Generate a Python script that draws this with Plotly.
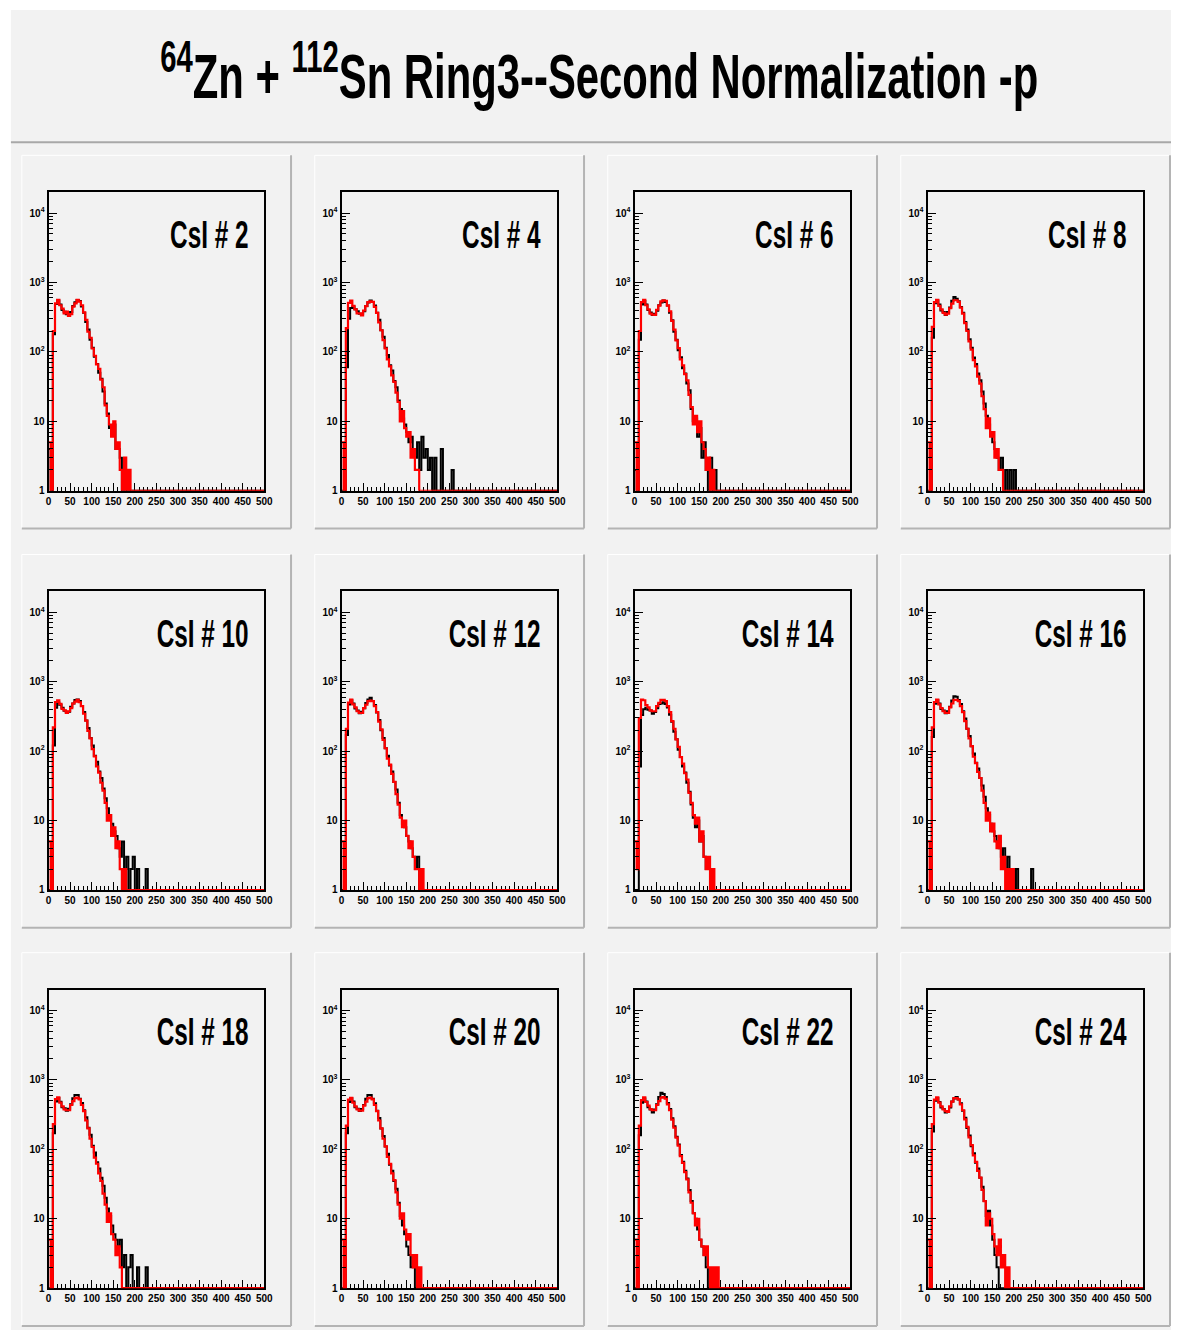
import numpy as np
import plotly.graph_objects as go

# ---------------- data ----------------
TITLE = "<sup>64</sup>Zn + <sup>112</sup>Sn Ring3--Second Normalization -p"
PANEL_IDS = [2, 4, 6, 8, 10, 12, 14, 16, 18, 20, 22, 24]
BIN_W = 5            # histogram bin width (channels)
X_MAX = 500
Y_MIN, Y_MAX = 1, 2e4
X_TICKS = [0, 50, 100, 150, 200, 250, 300, 350, 400, 450, 500]
Y_TICKS = [1, 10, 100, 1000, 10000]
Y_TICK_TEXT = ["1", "10", "10<sup>2</sup>", "10<sup>3</sup>", "10<sup>4</sup>"]

RED_2 = [5, 0, 200, 500, 560, 470, 420, 360, 380, 330, 350, 450, 500, 560, 530, 470, 370, 290, 195, 160, 112, 88, 66, 57, 40, 31, 17, 12, 9, 6, 10, 4, 5, 2, 0, 3, 1, 2, 1, 0]
BLACK_2 = [4, 0, 180, 490, 550, 480, 400, 380, 350, 345, 375, 460, 520, 560, 540, 450, 365, 270, 210, 150, 115, 85, 67, 50, 41, 27, 18, 13, 8, 7, 9, 4, 4, 3, 1, 2, 1, 1, 0, 0]

RED_4 = [5, 0, 220, 510, 550, 460, 410, 360, 360, 335, 395, 455, 520, 535, 525, 445, 365, 265, 205, 148, 112, 78, 62, 46, 37, 26, 19, 10, 14, 8, 6, 7, 3, 4, 2, 2, 1, 1, 0, 0]
BLACK_4 = [0, 0, 60, 300, 430, 450, 410, 385, 355, 355, 385, 460, 515, 550, 525, 465, 365, 290, 205, 165, 115, 90, 64, 54, 38, 31, 20, 15, 11, 9, 7, 5, 6, 4, 3, 5, 2, 6, 3, 4, 2, 3, 1, 3, 1, 0, 4, 0, 0, 0, 0, 2]

RED_6 = [5, 0, 200, 520, 560, 470, 410, 355, 345, 340, 405, 465, 535, 555, 545, 465, 385, 280, 210, 147, 113, 78, 64, 48, 39, 24, 16, 9, 12, 7, 10, 5, 4, 2, 3, 1, 2, 1, 0]
BLACK_6 = [2, 0, 150, 480, 540, 480, 400, 370, 340, 355, 390, 470, 515, 550, 525, 465, 365, 285, 195, 150, 106, 84, 58, 49, 35, 28, 15, 10, 11, 6, 8, 3, 5, 2, 1, 3, 1, 2, 1, 0]

RED_8 = [5, 0, 230, 520, 560, 460, 410, 365, 345, 355, 425, 495, 555, 555, 525, 435, 355, 260, 200, 142, 108, 76, 62, 44, 35, 23, 15, 8, 11, 6, 7, 3, 4, 2, 2, 1, 1, 0]
BLACK_8 = [1, 0, 160, 500, 550, 480, 395, 375, 340, 375, 435, 545, 620, 585, 535, 445, 365, 270, 210, 152, 115, 83, 67, 49, 39, 27, 18, 12, 9, 7, 5, 4, 3, 2, 3, 1, 2, 1, 2, 0, 2, 1, 0]

RED_10 = [5, 0, 220, 510, 540, 480, 405, 385, 355, 375, 415, 485, 515, 545, 505, 445, 345, 275, 195, 153, 107, 84, 60, 49, 35, 27, 18, 10, 12, 6, 8, 4, 5, 2, 1, 2, 1, 1, 0]
BLACK_10 = [1, 0, 120, 420, 500, 465, 420, 380, 370, 370, 435, 485, 545, 555, 525, 445, 365, 275, 215, 155, 120, 86, 70, 51, 41, 29, 21, 15, 12, 9, 7, 6, 4, 3, 5, 2, 3, 1, 2, 3, 1, 2, 0, 1, 1, 2, 0]

RED_12 = [5, 0, 210, 500, 550, 470, 425, 375, 355, 355, 415, 465, 525, 535, 525, 445, 365, 265, 205, 145, 110, 78, 64, 47, 36, 24, 17, 11, 8, 10, 6, 4, 5, 3, 2, 2, 1, 2, 1, 0]
BLACK_12 = [1, 0, 170, 470, 540, 485, 410, 385, 350, 370, 415, 495, 555, 585, 525, 460, 360, 280, 200, 155, 110, 86, 62, 51, 36, 28, 18, 12, 9, 8, 6, 5, 4, 3, 2, 3, 1, 1, 0]

RED_14 = [5, 2, 300, 550, 540, 460, 425, 385, 375, 375, 445, 495, 545, 545, 525, 445, 365, 270, 210, 148, 115, 82, 66, 48, 39, 25, 18, 12, 9, 11, 5, 7, 3, 2, 3, 1, 2, 1, 1, 0]
BLACK_14 = [0, 0, 60, 330, 400, 420, 395, 385, 345, 365, 415, 475, 485, 505, 475, 425, 335, 265, 190, 148, 105, 82, 60, 49, 35, 26, 17, 11, 8, 10, 5, 6, 3, 2, 2, 1, 1, 1, 0]

RED_16 = [5, 0, 220, 510, 550, 470, 415, 375, 355, 355, 425, 485, 545, 545, 525, 445, 365, 270, 210, 152, 118, 83, 67, 50, 41, 27, 18, 10, 13, 7, 9, 5, 4, 6, 2, 3, 1, 2, 1, 2, 0]
BLACK_16 = [1, 0, 160, 480, 540, 485, 405, 385, 350, 375, 435, 535, 615, 605, 545, 475, 375, 295, 210, 165, 117, 92, 68, 56, 41, 32, 22, 15, 12, 9, 7, 6, 5, 4, 3, 4, 2, 3, 1, 2, 1, 2, 0, 1, 0, 0, 0, 0, 2]

RED_18 = [5, 0, 230, 530, 560, 470, 415, 375, 365, 365, 435, 495, 545, 555, 525, 435, 355, 260, 200, 142, 108, 76, 62, 45, 35, 23, 16, 9, 12, 6, 5, 3, 4, 2, 1, 1, 0]
BLACK_18 = [1, 0, 170, 490, 550, 485, 405, 390, 360, 385, 445, 545, 605, 605, 535, 465, 365, 290, 205, 162, 113, 90, 65, 53, 39, 30, 20, 14, 11, 8, 6, 5, 4, 5, 2, 3, 1, 2, 3, 1, 1, 2, 0, 0, 0, 2]

RED_20 = [5, 0, 220, 520, 550, 470, 415, 375, 360, 360, 425, 485, 545, 555, 525, 435, 355, 260, 200, 142, 110, 78, 62, 45, 36, 24, 16, 10, 12, 7, 5, 6, 3, 2, 3, 1, 2, 1, 1, 0]
BLACK_20 = [1, 0, 170, 480, 545, 490, 405, 385, 355, 380, 435, 535, 605, 605, 535, 460, 360, 283, 200, 155, 110, 86, 60, 49, 35, 27, 17, 11, 8, 6, 4, 3, 2, 3, 1, 0]

RED_22 = [5, 0, 220, 510, 560, 480, 425, 380, 365, 365, 435, 495, 555, 565, 535, 445, 365, 268, 205, 147, 113, 80, 64, 47, 37, 24, 17, 12, 8, 10, 5, 4, 3, 4, 2, 1, 2, 1, 2, 0]
BLACK_22 = [1, 0, 160, 470, 540, 490, 405, 375, 340, 375, 445, 565, 650, 625, 565, 465, 380, 280, 215, 152, 117, 83, 66, 49, 38, 26, 18, 12, 10, 7, 5, 4, 3, 2, 1, 1, 0]

RED_24 = [5, 0, 230, 520, 560, 470, 415, 375, 355, 345, 415, 485, 545, 545, 525, 445, 365, 270, 210, 149, 115, 82, 66, 49, 39, 26, 18, 8, 12, 10, 6, 4, 3, 5, 2, 3, 1, 2, 1, 0]
BLACK_24 = [1, 0, 180, 500, 550, 480, 400, 380, 340, 350, 400, 490, 540, 565, 520, 460, 360, 285, 203, 158, 111, 88, 64, 53, 39, 29, 18, 11, 13, 8, 5, 3, 2, 1, 0]

RED = [RED_2, RED_4, RED_6, RED_8, RED_10, RED_12, RED_14, RED_16, RED_18, RED_20, RED_22, RED_24]
BLACK = [BLACK_2, BLACK_4, BLACK_6, BLACK_8, BLACK_10, BLACK_12, BLACK_14, BLACK_16, BLACK_18, BLACK_20, BLACK_22, BLACK_24]

# ---------------- layout geometry (pixels) ----------------
W, H = 1180, 1336
FONT = "Liberation Sans, Arial, Helvetica, sans-serif"
BG = "#f2f2f2"
PAD_LEFT = [19, 315, 611, 907]
PAD_TOP = [156, 557, 957]
PAD_W, PAD_H = 272, 375
FR_L, FR_R, FR_T, FR_B = 27, 245, 37, 337
TITLE_TARGET_W = 878   # rendered width of the (condensed) title
LABEL_SQUEEZE = 0.64   # horizontal condensation of the panel labels


def px(x):
    return x / W


def py(y):
    return 1 - y / H


def step_xy(vals):
    vals = list(vals)
    n = len(vals)
    xs = [i * BIN_W for i in range(n + 1)] + [X_MAX]
    ys = vals + [0, 0]
    ys = [max(v, Y_MIN) for v in ys]  # empty bins drawn on the log-axis floor
    return xs, ys


fig = go.Figure()
layout = {}
annotations = []
shapes = []

# canvas
shapes.append(dict(type="rect", xref="paper", yref="paper", x0=px(8), x1=1, y0=0, y1=py(10),
                   fillcolor=BG, line=dict(width=0), layer="below"))
shapes.append(dict(type="line", xref="paper", yref="paper", x0=px(8), x1=1, y0=py(143), y1=py(143),
                   line=dict(color="#a8a8a8", width=2), layer="below"))

minor_y = [d * 10 ** e for e in range(0, 5) for d in range(2, 10) if d * 10 ** e < Y_MAX]
minor_x = list(range(0, X_MAX + 1, 10))

for i, pid in enumerate(PANEL_IDS):
    r, c = divmod(i, 4)
    k = i + 1
    xa = "x" if k == 1 else f"x{k}"
    ya = "y" if k == 1 else f"y{k}"
    x0p, y0p = PAD_LEFT[c], PAD_TOP[r]
    x1p, y1p = x0p + PAD_W, y0p + PAD_H
    # pad bevel
    shapes += [
        dict(type="line", xref="paper", yref="paper", x0=px(x0p), x1=px(x1p), y0=py(y0p), y1=py(y0p),
             line=dict(color="white", width=1), layer="below"),
        dict(type="line", xref="paper", yref="paper", x0=px(x0p), x1=px(x0p), y0=py(y0p), y1=py(y1p),
             line=dict(color="white", width=1), layer="below"),
        dict(type="line", xref="paper", yref="paper", x0=px(x1p), x1=px(x1p), y0=py(y0p), y1=py(y1p),
             line=dict(color="#b4b4b4", width=2), layer="below"),
        dict(type="line", xref="paper", yref="paper", x0=px(x0p), x1=px(x1p), y0=py(y1p), y1=py(y1p),
             line=dict(color="#b4b4b4", width=2), layer="below"),
    ]
    fx0, fx1 = x0p + FR_L, x0p + FR_R
    fy0, fy1 = y0p + FR_T, y0p + FR_B

    bx, by = step_xy(BLACK[i])
    rx, ry = step_xy(RED[i])
    fig.add_trace(go.Scatter(x=bx, y=by, mode="lines", xaxis=xa, yaxis=ya,
                             line=dict(color="black", width=2, shape="hv"),
                             hoverinfo="skip", showlegend=False))
    fig.add_trace(go.Scatter(x=rx, y=ry, mode="lines", xaxis=xa, yaxis=ya,
                             line=dict(color="#ff0000", width=2.2, shape="hv"),
                             hoverinfo="skip", showlegend=False))

    layout["xaxis" if k == 1 else f"xaxis{k}"] = dict(
        domain=[px(fx0), px(fx1)], range=[0, X_MAX], anchor=ya,
        showline=True, linecolor="black", linewidth=2, mirror=True,
        ticks="inside", ticklen=8, tickwidth=1, tickcolor="black",
        tickmode="array", tickvals=X_TICKS, ticktext=[str(t) for t in X_TICKS],
        tickfont=dict(family=FONT, size=10, color="black", weight="bold"),
        minor=dict(tickmode="array", tickvals=minor_x, ticks="inside", ticklen=4,
                   tickcolor="black", tickwidth=1, showgrid=False),
        showgrid=False, zeroline=False, layer="below traces",
    )
    layout["yaxis" if k == 1 else f"yaxis{k}"] = dict(
        domain=[py(fy1), py(fy0)], type="log", range=[np.log10(Y_MIN), np.log10(Y_MAX)], anchor=xa,
        showline=True, linecolor="black", linewidth=2, mirror=True,
        ticks="inside", ticklen=8, tickwidth=1, tickcolor="black",
        tickmode="array", tickvals=Y_TICKS, ticktext=Y_TICK_TEXT,
        tickfont=dict(family=FONT, size=10, color="black", weight="bold"),
        minor=dict(tickmode="array", tickvals=minor_y, ticks="inside", ticklen=4,
                   tickcolor="black", tickwidth=1, showgrid=False),
        showgrid=False, zeroline=False,
    )
    annotations.append(dict(
        text=f"CsI # {pid}", xref=f"{xa} domain", yref=f"{ya} domain",
        x=0.936, y=0.857, xanchor="right", yanchor="middle", showarrow=False,
        font=dict(family=FONT, size=38, color="black", weight="bold"),
    ))

annotations.append(dict(
    text=TITLE, xref="paper", yref="paper", x=px(602), y=py(72),
    xanchor="center", yanchor="middle", showarrow=False,
    font=dict(family=FONT, size=63, color="black", weight="bold"),
))

fig.update_layout(
    width=W, height=H, margin=dict(l=0, r=0, t=0, b=0),
    paper_bgcolor="white", plot_bgcolor=BG,
    shapes=shapes, annotations=annotations, showlegend=False,
    **layout,
)

# condensed (narrow) lettering as in the original ROOT canvas
SQUEEZE_JS = """
var gd = document.getElementById('{plot_id}');
function squeeze() {
  var txts = gd.querySelectorAll('g.annotation text.annotation-text');
  txts.forEach(function(t) {
    t.removeAttribute('transform');
    var b = t.getBBox();
    var isTitle = t.textContent.indexOf('Normalization') >= 0;
    var s = isTitle ? (%TW% / b.width) : %LS%;
    var p = isTitle ? (b.x + b.width / 2) : (b.x + b.width);
    t.setAttribute('transform', 'translate(' + p + ',0) scale(' + s + ',1) translate(' + (-p) + ',0)');
  });
}
squeeze();
gd.on('plotly_afterplot', squeeze);
""".replace("%TW%", str(TITLE_TARGET_W)).replace("%LS%", str(LABEL_SQUEEZE))

fig.write_html("out.html", post_script=SQUEEZE_JS)
